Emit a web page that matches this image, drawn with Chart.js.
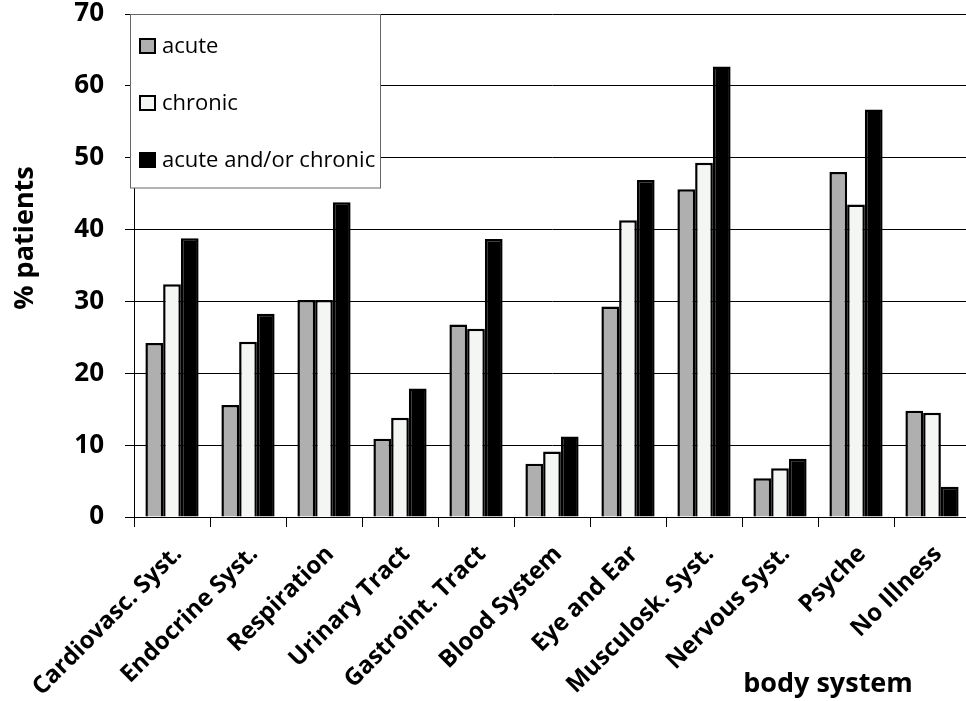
<!DOCTYPE html>
<html lang="en">
<head>
  <meta charset="UTF-8">
  <title>% patients by body system</title>
  <script src="https://cdn.jsdelivr.net/npm/chart.js"></script>
  <style>
    html, body { margin: 0; padding: 0; background: #fff; overflow: hidden; }
    #wrap { width: 970px; height: 701px; }
  </style>
</head>
<body>
  <div id="wrap"><canvas id="grafico" width="970" height="701"></canvas></div>
  <script>
    // data
    const categories = [
      "Cardiovasc. Syst.", "Endocrine Syst.", "Respiration", "Urinary Tract",
      "Gastroint. Tract", "Blood System", "Eye and Ear", "Musculosk. Syst.",
      "Nervous Syst.", "Psyche", "No Illness"
    ];
    const acute   = [24.2, 15.6, 30.2, 10.9, 26.8, 7.4, 29.3, 45.6, 5.4, 48.0, 14.8];
    const chronic = [32.4, 24.4, 30.2, 13.8, 26.2, 9.1, 41.3, 49.3, 6.8, 43.5, 14.5];
    const either  = [38.8, 28.3, 43.8, 17.9, 38.7, 11.2, 46.9, 62.7, 8.1, 56.7, 4.2];
    const seriesNames = ["acute", "chronic", "acute and/or chronic"];
    const yTicks = [0, 10, 20, 30, 40, 50, 60, 70];
    const yTitle = "% patients";
    const xTitle = "body system";

    const FONT = '"Open Sans", sans-serif';

    // legend box inside the plot + axis titles
    const boxLegend = {
      id: "boxLegend",
      afterDraw(chart) {
        const ctx = chart.ctx;
        ctx.save();
        ctx.fillStyle = "#fff";
        ctx.fillRect(130, 14, 251, 174);
        ctx.strokeStyle = "#666";
        ctx.lineWidth = 1;
        ctx.strokeRect(130.5, 14.5, 250, 173.5);
        ctx.font = "22px " + FONT;
        ctx.textBaseline = "middle";
        chart.data.datasets.forEach((ds, i) => {
          const y = 46 + i * 57;
          ctx.fillStyle = ds.backgroundColor;
          ctx.fillRect(140, y - 7, 15, 14);
          ctx.strokeStyle = "#000";
          ctx.lineWidth = 2;
          ctx.strokeRect(140, y - 7, 15, 14);
          ctx.fillStyle = "#000";
          ctx.fillText(ds.label, 162, y + 1);
        });

        ctx.font = "bold 27px " + FONT;
        ctx.textAlign = "center";
        ctx.textBaseline = "middle";
        ctx.save();
        ctx.translate(25, 238);
        ctx.rotate(-Math.PI / 2);
        ctx.fillText(yTitle, 0, 0);
        ctx.restore();
        ctx.textBaseline = "alphabetic";
        ctx.fillText(xTitle, 828, 692);
        ctx.restore();
      }
    };

    new Chart(document.getElementById("grafico"), {
      type: "bar",
      data: {
        labels: categories,
        datasets: [
          { label: seriesNames[0], data: acute,   backgroundColor: "#afafaf", borderColor: "#000", borderWidth: 2.5 },
          { label: seriesNames[1], data: chronic, backgroundColor: "#f4f6f4", borderColor: "#000", borderWidth: 2.5 },
          { label: seriesNames[2], data: either,  backgroundColor: "#000",    borderColor: "#000", borderWidth: 2.5 }
        ]
      },
      options: {
        responsive: false,
        animation: false,
        layout: { padding: { top: 14, left: 0, right: 0, bottom: 0 } },
        datasets: { bar: { barPercentage: 1, categoryPercentage: 0.7 } },
        plugins: {
          legend: { display: false },
          tooltip: { enabled: false }
        },
        scales: {
          x: {
            offset: true,
            grid: { display: true, drawOnChartArea: false, offset: true, color: "#000", tickLength: 10, lineWidth: 1 },
            border: { color: "#000", width: 1 },
            ticks: {
              color: "#000",
              font: { family: FONT, size: 24, weight: "bold" },
              minRotation: 45, maxRotation: 45, padding: 13, labelOffset: 6,
              autoSkip: false
            },
            afterFit(scale) {
              scale.height = 184;
              scale.paddingLeft = 0;
              scale.paddingRight = 0;
            }
          },
          y: {
            min: 0, max: 70,
            afterBuildTicks(scale) { scale.ticks = yTicks.map(v => ({ value: v })); },
            grid: { color: "#000", tickLength: 9, lineWidth: 1 },
            border: { color: "#000", width: 1 },
            ticks: {
              color: "#000",
              font: { family: FONT, size: 26, weight: "bold" },
              padding: 21
            },
            afterFit(scale) {
              scale.width = 134;
              scale.paddingTop = 0;
              scale.paddingBottom = 0;
            }
          }
        }
      },
      plugins: [boxLegend]
    });
  </script>
</body>
</html>
